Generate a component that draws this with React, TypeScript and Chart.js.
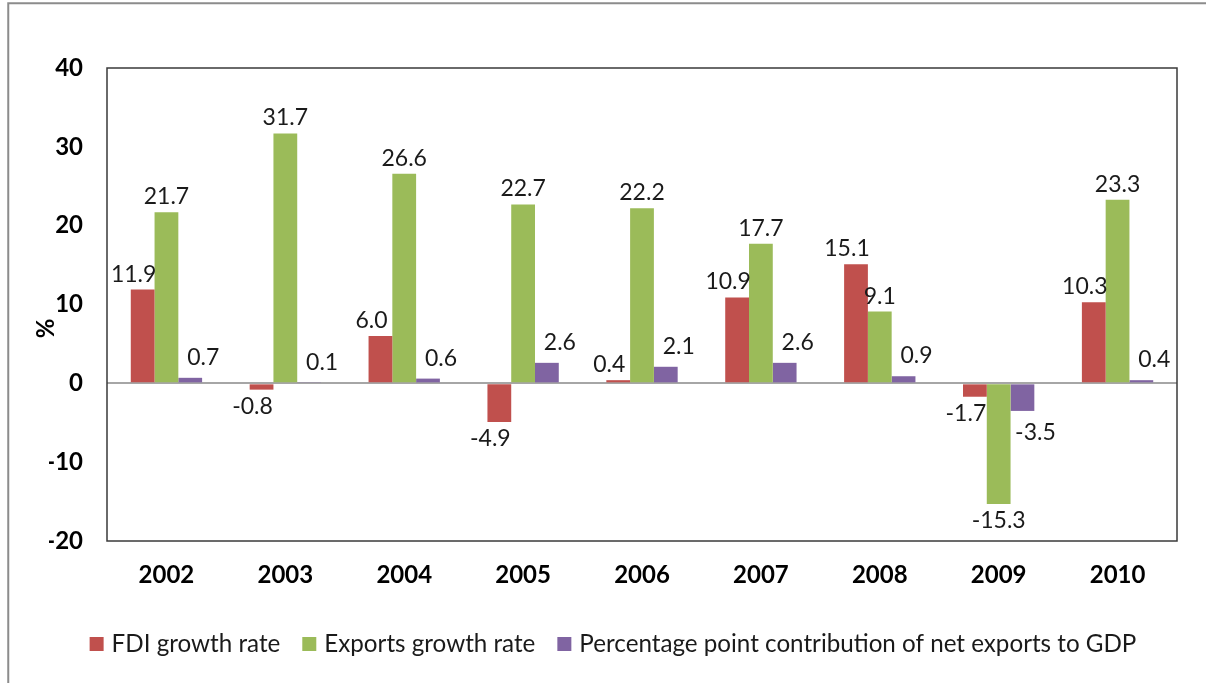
import React, { useEffect, useRef } from "react";
import { Chart, registerables } from "chart.js";

Chart.register(...registerables);

const years = ["2002", "2003", "2004", "2005", "2006", "2007", "2008", "2009", "2010"];
const fdiGrowth = [11.9, -0.8, 6.0, -4.9, 0.4, 10.9, 15.1, -1.7, 10.3];
const exportsGrowth = [21.7, 31.7, 26.6, 22.7, 22.2, 17.7, 9.1, -15.3, 23.3];
const netExportsContribution = [0.7, 0.1, 0.6, 2.6, 2.1, 2.6, 0.9, -3.5, 0.4];
const seriesNames = [
  "FDI growth rate",
  "Exports growth rate",
  "Percentage point contribution of net exports to GDP",
];
const seriesColors = ["#C0504D", "#9BBB59", "#8064A2"];
const yMin = -20;
const yMax = 40;
const yStep = 10;
const yTitle = "%";

const FONT = "Lato, 'Open Sans', sans-serif";

const decorPlugin = {
  id: "decor",
  beforeDraw(chart: any) {
    const { ctx } = chart;
    ctx.save();
    ctx.fillStyle = "#ffffff";
    ctx.fillRect(0, 0, chart.width, chart.height);
    ctx.strokeStyle = "#8c8c8c";
    ctx.lineWidth = 2;
    ctx.strokeRect(8.25, 3.25, 1210, 700);
    ctx.restore();
  },
  afterDatasetsDraw(chart: any) {
    const { ctx, chartArea } = chart;
    ctx.save();
    // data labels
    ctx.font = `23px ${FONT}`;
    ctx.fillStyle = "#1a1a1a";
    ctx.textAlign = "center";
    ctx.textBaseline = "alphabetic";
    chart.data.datasets.forEach((ds: any, di: number) => {
      const meta = chart.getDatasetMeta(di);
      meta.data.forEach((bar: any, i: number) => {
        const v = ds.data[i];
        const dx = di === 0 ? -9 : di === 2 ? 13 : 0;
        const dy = di === 2 ? 21 : 16;
        const cy = v >= 0 ? bar.y - dy : bar.y + dy;
        ctx.fillText(v.toFixed(1), bar.x + dx, cy + 8);
      });
    });
    // plot frame
    ctx.strokeStyle = "#3a3a3a";
    ctx.lineWidth = 1.5;
    ctx.strokeRect(chartArea.left, chartArea.top, chartArea.right - chartArea.left, chartArea.bottom - chartArea.top);
    // y title
    ctx.font = `bold 24px ${FONT}`;
    ctx.fillStyle = "#000000";
    ctx.translate(46.5, 328.5);
    ctx.rotate(-Math.PI / 2);
    ctx.textBaseline = "middle";
    ctx.fillText(yTitle, 0, 0);
    ctx.restore();
  },
  afterDraw(chart: any) {
    const { ctx } = chart;
    ctx.save();
    ctx.font = `24.2px ${FONT}`;
    const gapBox = 8;
    const box = 14;
    const gapItem = 22;
    const items = chart.data.datasets.map((ds: any) => ({
      text: ds.label,
      color: ds.backgroundColor,
      w: ctx.measureText(ds.label).width,
    }));
    const total = items.reduce((s: number, it: any) => s + box + gapBox + it.w, 0) + gapItem * (items.length - 1);
    let x = 613 - total / 2;
    const cy = 644;
    ctx.textAlign = "left";
    ctx.textBaseline = "alphabetic";
    items.forEach((it: any) => {
      ctx.fillStyle = it.color;
      ctx.fillRect(x, cy - 7, box, box);
      ctx.fillStyle = "#1a1a1a";
      ctx.fillText(it.text, x + box + gapBox, cy + 8);
      x += box + gapBox + it.w + gapItem;
    });
    ctx.restore();
  },
};

export default function App() {
  const ref = useRef<HTMLCanvasElement | null>(null);
  useEffect(() => {
    document.body.style.overflow = "hidden";
    const canvas = ref.current;
    if (!canvas) return;
    const chart = new Chart(canvas, {
      type: "bar",
      data: {
        labels: years,
        datasets: [
          { label: seriesNames[0], data: fdiGrowth, backgroundColor: seriesColors[0] },
          { label: seriesNames[1], data: exportsGrowth, backgroundColor: seriesColors[1] },
          { label: seriesNames[2], data: netExportsContribution, backgroundColor: seriesColors[2] },
        ],
      },
      options: {
        responsive: false,
        animation: false,
        devicePixelRatio: 1,
        layout: { padding: { left: 49, right: 49, top: 68, bottom: 82 } },
        datasets: { bar: { categoryPercentage: 0.6, barPercentage: 1 } },
        plugins: {
          legend: { display: false },
          tooltip: { enabled: false },
          title: { display: false },
        },
        scales: {
          x: {
            grid: { display: false, drawTicks: false },
            border: { display: false },
            ticks: {
              padding: 20,
              color: "#000000",
              font: { family: FONT, size: 24, weight: "bold" },
            },
            afterFit(scale: any) {
              scale.height = 60;
            },
          },
          y: {
            min: yMin,
            max: yMax,
            grid: {
              drawTicks: false,
              lineWidth: 2,
              color: (c: any) => (c.tick && c.tick.value === 0 ? "#a6a6a6" : "rgba(0,0,0,0)"),
            },
            border: { display: false },
            ticks: {
              stepSize: yStep,
              padding: 24,
              color: "#000000",
              font: { family: FONT, size: 24, weight: "bold" },
            },
            afterFit(scale: any) {
              scale.width = 58;
            },
          },
        },
      },
      plugins: [decorPlugin],
    });
    return () => chart.destroy();
  }, []);
  return (
    <canvas
      ref={ref}
      width={1226}
      height={683}
      style={{ position: "fixed", left: 0, top: 0, width: 1226, height: 683 }}
    />
  );
}
